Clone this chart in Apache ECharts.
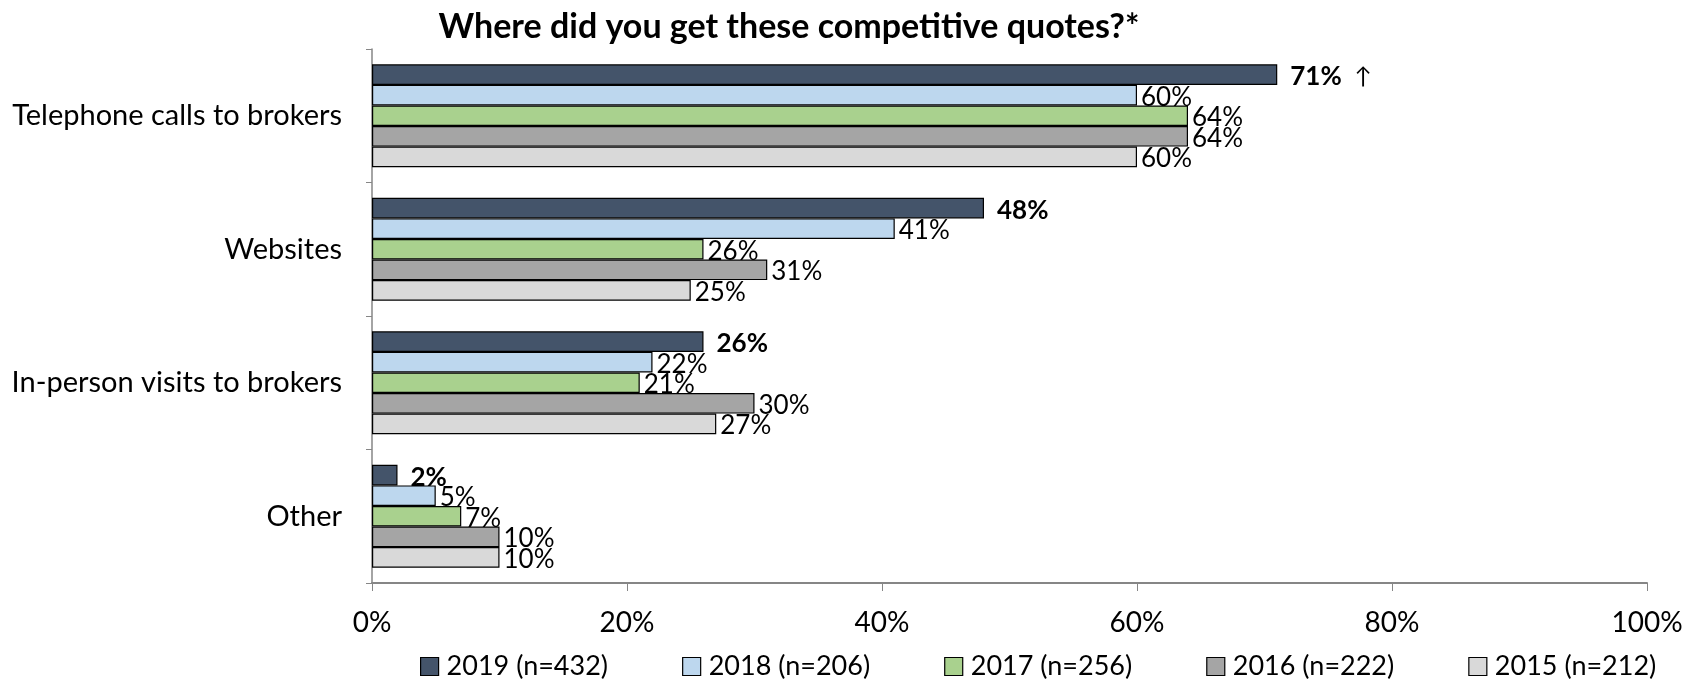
<!DOCTYPE html>
<html>
<head>
<meta charset="utf-8">
<script src="https://cdn.jsdelivr.net/npm/echarts@6/dist/echarts.min.js"></script>
<style>
  html, body { margin: 0; padding: 0; background: #ffffff; }
  #chart { width: 1702px; height: 681px; }
</style>
</head>
<body>
<div id="chart"></div>
<script>
// Sources of competitive quotes, share of respondents by survey year
const categories = ['Telephone calls to brokers', 'Websites', 'In-person visits to brokers', 'Other'];
const seriesNames = ['2019 (n=432)', '2018 (n=206)', '2017 (n=256)', '2016 (n=222)', '2015 (n=212)'];
const values2019 = [71, 48, 26, 2];
const values2018 = [60, 41, 22, 5];
const values2017 = [64, 26, 21, 7];
const values2016 = [64, 31, 30, 10];
const values2015 = [60, 25, 27, 10];
const xTicks = [0, 20, 40, 60, 80, 100];
// markers shown after a value (significant increase)
const markers2019 = ['↑', '', '', ''];

const seriesValues = [values2019, values2018, values2017, values2016, values2015];
const colors = ['#44546a', '#bdd7ee', '#a9d18e', '#a5a5a5', '#d9d9d9'];
const FONT = 'Lato';

const chart = echarts.init(document.getElementById('chart'), null, { renderer: 'canvas' });

const series = seriesValues.map((vals, i) => ({
  name: seriesNames[i],
  type: 'bar',
  data: vals,
  barGap: '0%',
  barCategoryGap: '23%',
  itemStyle: { color: colors[i], borderColor: '#000000', borderWidth: 1.2 },
  label: {
    show: true,
    position: 'right',
    distance: i === 0 ? 13 : 4,
    offset: [0, 2],
    fontFamily: FONT,
    fontSize: 26,
    color: '#000000',
    fontWeight: i === 0 ? 'bold' : 'normal',
    formatter: i === 0
      ? (p) => p.value + '%' + (markers2019[p.dataIndex] ? '  {arrow|' + markers2019[p.dataIndex] + '}' : '')
      : (p) => p.value + '%',
    rich: i === 0 ? { arrow: { fontFamily: FONT, fontSize: 23, fontWeight: 'normal', color: '#000000' } } : undefined
  },
  emphasis: { disabled: true },
  animation: false
}));

chart.setOption({
  animation: false,
  title: {
    text: 'Where did you get these competitive quotes?*',
    left: 784,
    textAlign: 'center',
    top: 5,
    textStyle: { fontFamily: FONT, fontSize: 34, fontWeight: 'bold', color: '#000000' }
  },
  legend: {
    top: 648,
    left: 415,
    itemWidth: 18,
    itemHeight: 18,
    itemGap: 74,
    icon: 'rect',
    itemStyle: { borderColor: '#000000', borderWidth: 1.2 },
    textStyle: { fontFamily: FONT, fontSize: 27, color: '#000000', padding: [0, 0, 0, 3] },
    data: seriesNames
  },
  grid: { left: 372, right: 55, top: 49, bottom: 98, containLabel: false },
  xAxis: {
    type: 'value',
    min: xTicks[0],
    max: xTicks[xTicks.length - 1],
    interval: 20,
    splitLine: { show: false },
    axisLine: { show: true, lineStyle: { color: '#868686', width: 2 } },
    axisTick: { show: true, length: 8, lineStyle: { color: '#868686', width: 1 } },
    axisLabel: {
      margin: 26,
      fontFamily: FONT,
      fontSize: 28,
      color: '#000000',
      formatter: (v) => v + '%'
    }
  },
  yAxis: {
    type: 'category',
    data: categories,
    inverse: true,
    axisLine: { show: true, lineStyle: { color: '#868686', width: 1.5 } },
    axisTick: { show: true, length: 6, alignWithLabel: false, lineStyle: { color: '#868686', width: 1 } },
    axisLabel: { margin: 30, fontFamily: FONT, fontSize: 29, color: '#000000' }
  },
  series: series
});
</script>
</body>
</html>
